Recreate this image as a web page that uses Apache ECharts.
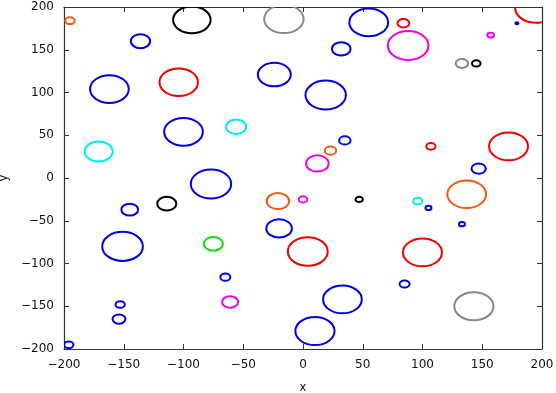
<!DOCTYPE html>
<html>
<head>
<meta charset="utf-8">
<script src="https://cdn.jsdelivr.net/npm/echarts@6/dist/echarts.min.js"></script>
<style>
html,body{margin:0;padding:0;background:#fff;}
#chart{width:556px;height:393px;}
</style>
</head>
<body>
<div id="chart"></div>
<script>
// circle centres (data units), radii (data units) and colour group
var xValues = [-195,-136,-93,-16,-104,-162,-24,-100,-56,-171,-77,55,84,88,179,157,195,32,133,145,19,35,23,12,107,172,147,137,-114,-145,-151,-75,-65,-61,-153,-154,-196,-21,-20,0,47,96,105,133,4,100,85,33,143,10];
var yValues = [184,160,185,186,112,104,121,54,60,31,-7,182,181,155,181,167,199,151,134,134,97,44,32,17,37,37,11,-19,-30,-37,-80,-77,-116,-145,-148,-165,-195,-27,-59,-25,-25,-27,-35,-54,-86,-87,-124,-142,-150,-179];
var radii = [4.0,8.1,15.7,16.5,16.1,16.2,13.8,16.2,8.4,11.7,16.9,16.2,5.0,17.0,1.3,2.8,17.5,7.8,5.2,3.6,16.9,4.8,4.8,9.5,3.9,16.3,6.0,16.2,8.0,7.0,17.0,8.0,4.2,6.7,3.9,5.4,3.9,9.4,10.7,3.6,3.1,3.9,2.5,2.5,16.7,16.3,4.2,16.2,16.4,16.4];
var groups = ['orange','blue','black','gray','red','blue','blue','blue','cyan','cyan','blue','blue','red','magenta','blue','magenta','red','blue','gray','black','blue','blue','orange','magenta','red','red','blue','orange','black','blue','blue','green','blue','magenta','blue','blue','blue','orange','blue','magenta','black','cyan','blue','blue','red','red','blue','blue','gray','blue'];
var xTicks = [-200,-150,-100,-50,0,50,100,150,200];
var yTicks = [-200,-150,-100,-50,0,50,100,150,200];

var palette = {
  blue:'#0000dd', red:'#ee0000', black:'#000000', gray:'#888888',
  magenta:'#ee00ee', cyan:'#00eeee', orange:'#f05a14', green:'#10e010'
};

var data = xValues.map(function(x,i){ return [x, yValues[i], radii[i], i]; });

var chart = echarts.init(document.getElementById('chart'), null, {renderer:'canvas'});
var fmt = function(v){ return String(v).replace('-', '\u2212'); };
var font = 'DejaVu Sans';
var axisCommon = function(pos, showLabel, name){
  return {
    type:'value', position: pos, min: xTicks[0], max: xTicks[xTicks.length-1], interval: 50,
    name: name || '', 
    axisLine:{show:true, onZero:false, lineStyle:{color:'#333', width:1.2}},
    axisTick:{show:true, inside:true, length:5, lineStyle:{color:'#333', width:1}},
    splitLine:{show:false},
    axisLabel:{show: showLabel, formatter: fmt, fontFamily: font, fontSize: 12, color:'#111', margin: 10}
  };
};
var xa = axisCommon('bottom', true, 'x');
xa.nameLocation = 'middle'; xa.nameGap = 33;
xa.nameTextStyle = {fontFamily: font, fontSize: 11.5, color:'#111'};
var xa2 = axisCommon('top', false);
var ya = axisCommon('left', true, 'y');
ya.min = yTicks[0]; ya.max = yTicks[yTicks.length-1];
ya.nameLocation = 'middle'; ya.nameGap = 49; ya.nameRotate = 90;
ya.nameTextStyle = {fontFamily: font, fontSize: 11.5, color:'#111'};
var ya2 = axisCommon('right', false);
ya2.min = yTicks[0]; ya2.max = yTicks[yTicks.length-1];

chart.setOption({
  animation:false,
  backgroundColor:'#fff',
  grid:{left:64, right:14, top:7, bottom:44, containLabel:false, outerBoundsMode:'none'},
  xAxis:[xa, xa2],
  yAxis:[ya, ya2],
  series:[{
    type:'custom',
    clip:true,
    xAxisIndex:0, yAxisIndex:0,
    data:data,
    renderItem:function(params, api){
      var c = api.coord([api.value(0), api.value(1)]);
      var s = api.size([api.value(2), api.value(2)]);
      var rx = s[0], ry = s[1];
      var cx = c[0], cy = c[1];
      var d = 'M ' + (cx-rx) + ' ' + cy +
              ' A ' + rx + ' ' + ry + ' 0 1 0 ' + (cx+rx) + ' ' + cy +
              ' A ' + rx + ' ' + ry + ' 0 1 0 ' + (cx-rx) + ' ' + cy + ' Z';
      var col = palette[groups[api.value(3)]];
      var cs = params.coordSys;
      return {
        type:'group',
        clipPath:{type:'rect', shape:{x:cs.x, y:cs.y, width:cs.width, height:cs.height}},
        children:[{
          type:'path',
          shape:{pathData:d},
          style:{fill:'none', stroke:col, lineWidth:2}
        }]
      };
    }
  }]
});
</script>
</body>
</html>
